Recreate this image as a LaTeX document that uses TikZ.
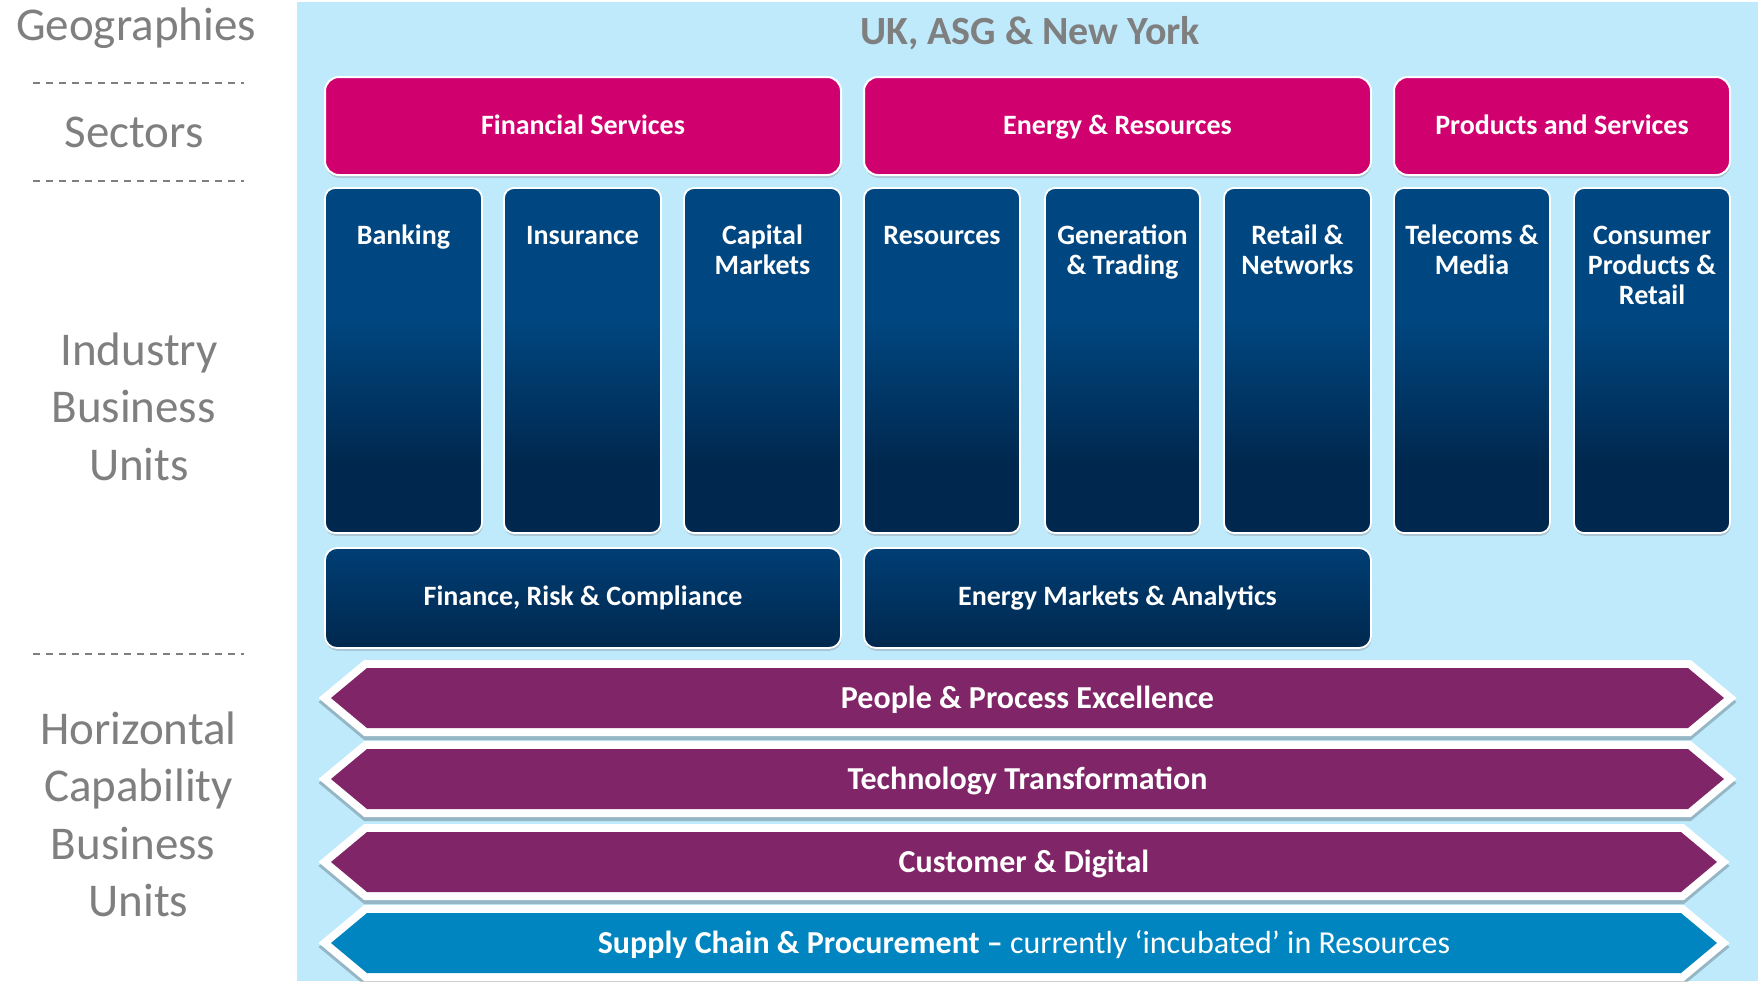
\documentclass[tikz,border=0pt]{standalone}
\usepackage{fontspec}
\setmainfont{Carlito}
\usetikzlibrary{shadows,fit,calc}
\definecolor{lblue}{RGB}{191,234,252}
\definecolor{magent}{RGB}{208,0,111}
\definecolor{bulight}{RGB}{0,70,128}
\definecolor{budark}{RGB}{0,40,78}
\definecolor{bumid}{RGB}{0,62,116}
\definecolor{purp}{RGB}{128,38,104}
\definecolor{bluec}{RGB}{0,133,192}
\definecolor{graytxt}{RGB}{127,127,127}
\pgfdeclareverticalshading{tallbu}{100bp}{color(0bp)=(budark); color(35bp)=(budark); color(56bp)=(bulight); color(100bp)=(bulight)}
\pgfdeclareverticalshading{shortbu}{100bp}{color(0bp)=(budark); color(25bp)=(budark); color(75bp)=(bumid); color(100bp)=(bumid)}
\newcommand\chevband[6]{%
  \path[chevron, fill=#5] (331,{(#2+#3)/2}) -- (367,#2) -- ({#4-36},#2) -- (#4,{(#2+#3)/2}) -- ({#4-36},#3) -- (367,#3) -- cycle;
  \node[chevtext, anchor=base] (#1) at ({(331+#4)/2},{(#2+#3)/2+10}) {#6};
}
\newcommand\toprule{\rule{0pt}{11.2pt}}
\begin{document}
\begin{tikzpicture}[x=0.5pt,y=-0.5pt,
  sidelbl/.style={text=graytxt, font=\fontsize{23.5pt}{28.75pt}\selectfont, inner sep=0pt, align=center},
  sepline/.style={draw=graytxt, line width=1pt, dash pattern=on 3.5pt off 3pt},
  boxshadow/.style={drop shadow={shadow xshift=0.3pt, shadow yshift=-1.4pt, opacity=0.33}},
  sectorbox/.style={fill=magent, draw=white, line width=1pt, rounded corners=7pt, inner sep=0pt, boxshadow},
  tallbox/.style={shade, shading=tallbu, draw=white, line width=0.9pt, rounded corners=5pt, inner sep=0pt, boxshadow},
  widebox/.style={shade, shading=shortbu, draw=white, line width=0.9pt, rounded corners=6pt, inner sep=0pt, boxshadow},
  whitetxt/.style={text=white, font=\fontsize{14pt}{15pt}\selectfont\bfseries, inner sep=0pt, align=center},
  bulbl/.style={whitetxt, anchor=north},
  chevtext/.style={text=white, font=\fontsize{16pt}{19pt}\selectfont\bfseries, inner sep=0pt},
  chevron/.style={line join=miter,
    preaction={draw=black, opacity=0.22, line width=8pt, line join=miter, transform canvas={yshift=-2pt}},
    preaction={draw=white, line width=8pt, line join=miter}},
]
\useasboundingbox (0,0) rectangle (1758,981);
\fill[white] (0,0) rectangle (1758,981);
\fill[lblue] (297,2) rectangle (1758,981);

% left column
\node[sidelbl, anchor=base] (geo) at (136,40) {Geographies};
\draw[sepline] (33,83) -- (244,83);
\node[sidelbl, anchor=base] (sec) at (134,147) {Sectors};
\draw[sepline] (33,181) -- (244,181);
\node[sidelbl, anchor=north] (ibu) at (139,332) {Industry\\Business\rule{0.23em}{0pt}\\Units};
\draw[sepline] (33,654) -- (244,654);
\node[sidelbl, anchor=north] (hbu) at (138.5,711) {Horizontal\\Capability\\Business\rule{0.23em}{0pt}\\Units};

% title
\node[text=graytxt, font=\fontsize{20pt}{24pt}\selectfont\bfseries, inner sep=0pt, anchor=base] (title) at (1030,44) {UK, ASG \& New York};

% sectors
\node[sectorbox, fit={(325,77) (841,175)}] (fs) {};
\node[whitetxt, anchor=base] (fst) at (583,134) {Financial Services};
\node[sectorbox, fit={(864,77) (1371,175)}] (er) {};
\node[whitetxt, anchor=base] (ert) at (1117.5,134) {Energy \& Resources};
\node[sectorbox, fit={(1394,77) (1730,175)}] (ps) {};
\node[whitetxt, anchor=base] (pst) at (1562,134) {Products and Services};

% industry business units
\node[tallbox, fit={(325,188) (482,533)}] (bank) {};
\node[bulbl] (bankt) at (403.5,222) {\toprule Banking};
\node[tallbox, fit={(504,188) (661,533)}] (ins) {};
\node[bulbl] (inst) at (582.5,222) {\toprule Insurance};
\node[tallbox, fit={(684,188) (841,533)}] (cap) {};
\node[bulbl] (capt) at (762.5,222) {\toprule Capital\\Markets};
\node[tallbox, fit={(864,188) (1020,533)}] (res) {};
\node[bulbl] (rest) at (942,222) {\toprule Resources};
\node[tallbox, fit={(1045,188) (1200,533)}] (gen) {};
\node[bulbl] (gent) at (1122.5,222) {\toprule Generation\\\& Trading};
\node[tallbox, fit={(1224,188) (1371,533)}] (ret) {};
\node[bulbl] (rett) at (1297.5,222) {\toprule Retail \&\\Networks};
\node[tallbox, fit={(1394,188) (1550,533)}] (tel) {};
\node[bulbl] (telt) at (1472,222) {\toprule Telecoms \&\\Media};
\node[tallbox, fit={(1574,188) (1730,533)}] (con) {};
\node[bulbl] (cont) at (1652,222) {\toprule Consumer\\Products \&\\Retail};

% second row
\node[widebox, fit={(325,548) (841,648)}] (frc) {};
\node[whitetxt, anchor=base] (frct) at (583,605) {Finance, Risk \& Compliance};
\node[widebox, fit={(864,548) (1371,648)}] (ema) {};
\node[whitetxt, anchor=base] (emat) at (1117.5,605) {Energy Markets \& Analytics};

% horizontal capability chevrons
\chevband{ppe}{668}{728}{1724}{purp}{People \& Process Excellence}
\chevband{tt}{749}{809}{1724}{purp}{Technology Transformation}
\chevband{cd}{832}{892}{1717}{purp}{Customer \& Digital}
\chevband{scp}{913}{973}{1717}{bluec}{Supply Chain \& Procurement –\mdseries{} currently ‘incubated’ in Resources}
\end{tikzpicture}
\end{document}
